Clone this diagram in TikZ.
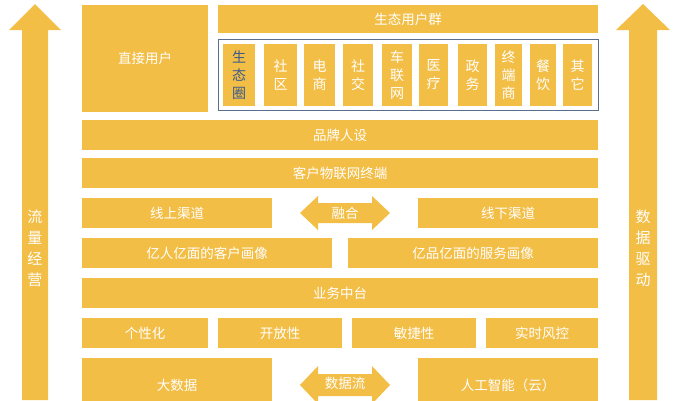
\documentclass[tikz,border=0pt]{standalone}
\usepackage{fontspec}
\setmainfont{Noto Sans CJK SC}
\definecolor{gold}{HTML}{F3BE45}
\definecolor{frameblue}{HTML}{5A6E90}
\definecolor{txtblue}{HTML}{3A5A8C}
\tikzset{
  box/.style={fill=gold, draw=none, inner sep=0pt, text=white, font=\fontsize{13.5}{15}\selectfont},
  vbox/.style={box, align=center, font=\fontsize{14}{18}\selectfont},
  vboxblue/.style={vbox, text=txtblue},
  arr/.style={fill=gold, draw=none},
}
\newcommand{\bx}[6][box]{\node[#1, minimum width=#4pt, minimum height=#5pt] (#2) at (#3) {#6};}
\begin{document}
\begin{tikzpicture}[x=1pt,y=-1pt]
\useasboundingbox (0,0) rectangle (691,400);
\clip (0,0) rectangle (691,400);
% side arrows
\fill[arr] (22,400) -- (22,30) -- (9,30) -- (35,4) -- (61,30) -- (48,30) -- (48,400) -- cycle;
\node[vbox, text width=16pt, font=\fontsize{15}{21}\selectfont] (left) at (35,248) {流\\量\\经\\营};
\fill[arr] (629,400) -- (629,30) -- (616,30) -- (643,4) -- (670,30) -- (657,30) -- (657,400) -- cycle;
\node[vbox, text width=16pt, font=\fontsize{15}{21}\selectfont] (right) at (643,248) {数\\据\\驱\\动};
% top
\bx{direct}{145,58.5}{126}{107}{直接用户}
\bx{eco}{408,19}{380}{28}{生态用户群}
\node[draw=frameblue, line width=0.8pt, minimum width=380pt, minimum height=71pt, inner sep=0pt] (frame) at (408,74.5) {};
\bx[vboxblue]{s1}{239,75}{32}{62}{生\\态\\圈}
\bx[vbox]{s2}{280.5,75}{33}{62}{社\\区}
\bx[vbox]{s3}{319.5,75}{31}{62}{电\\商}
\bx[vbox]{s4}{358,75}{30}{62}{社\\交}
\bx[vbox]{s5}{397,75}{30}{62}{车\\联\\网}
\bx[vbox]{s6}{433.5,75}{29}{62}{医\\疗}
\bx[vbox]{s7}{472.5,75}{29}{62}{政\\务}
\bx[vbox]{s8}{508.5,75}{27}{62}{终\\端\\商}
\bx[vbox]{s9}{543,75}{26}{62}{餐\\饮}
\bx[vbox]{s10}{577.5,75}{29}{62}{其\\它}
% rows
\bx{brand}{340,135}{516}{30}{品牌人设}
\bx{iot}{340,173}{516}{30}{客户物联网终端}
\bx{online}{177,213}{190}{30}{线上渠道}
\bx{offline}{508,213}{180}{30}{线下渠道}
\fill[arr] (300,213) -- (318,196) -- (318,203) -- (372,203) -- (372,196) -- (390,213) -- (372,230) -- (372,223) -- (318,223) -- (318,230) -- cycle;
\node[box] (fuse) at (345,213) {融合};
\bx{cust}{207,253}{250}{30}{亿人亿面的客户画像}
\bx{serv}{473,253}{250}{30}{亿品亿面的服务画像}
\bx{mid}{340,293}{516}{30}{业务中台}
\bx{p1}{145,333}{126}{30}{个性化}
\bx{p2}{280,333}{124}{30}{开放性}
\bx{p3}{414,333}{124}{30}{敏捷性}
\bx{p4}{542,333}{112}{30}{实时风控}
\bx{big}{177,385}{190}{54}{大数据}
\bx{ai}{508,385}{180}{54}{人工智能（云）}
\fill[arr] (300,385) -- (318,366) -- (318,374) -- (372,374) -- (372,366) -- (390,385) -- (372,404) -- (372,396) -- (318,396) -- (318,404) -- cycle;
\node[box] (flow) at (345,383) {数据流};
\end{tikzpicture}
\end{document}
